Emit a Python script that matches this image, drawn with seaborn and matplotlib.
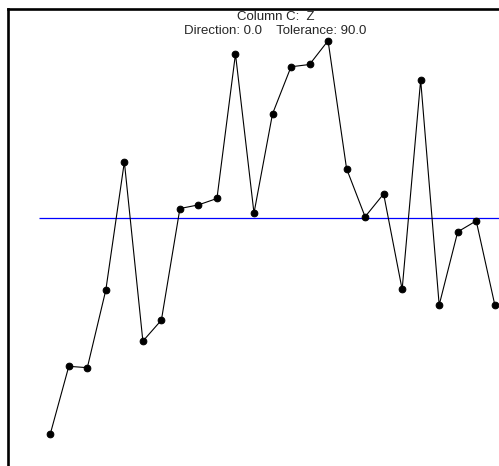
import numpy as np
import pandas as pd
import matplotlib
matplotlib.use('Agg')
import matplotlib.pyplot as plt
import seaborn as sns

# values (sample index vs Z)
sample = list(range(1, 26))
z_values = [7.0, 21.8, 21.5, 38.5, 66.5, 27.3, 31.9, 56.3, 57.1, 58.5,
            90.1, 55.3, 77.0, 87.3, 87.8, 93.0, 65.0, 54.5, 59.5, 38.6,
            84.4, 35.2, 51.2, 53.6, 35.3]
z_mean = 54.2
title_line1 = 'Column C:  Z'
title_line2 = 'Direction: 0.0    Tolerance: 90.0'

df = pd.DataFrame({'sample': sample, 'z': z_values})

sns.set_style('white')
plt.rcParams['font.family'] = ['Liberation Sans', 'DejaVu Sans']

W, H = 499, 466
fig = plt.figure(figsize=(W / 100, H / 100), dpi=100)
ax = fig.add_axes([7.5 / W, 0, 1 - 7.5 / W, 1 - 8.7 / H])

ax.hlines(z_mean, 0.39, 25.5, color='#0000ff', lw=0.9, zorder=1)
sns.lineplot(data=df, x='sample', y='z', ax=ax, color='black', lw=0.8,
             marker='o', markersize=4.8, markeredgecolor='black',
             markerfacecolor='black', zorder=2, clip_on=False)

ax.set_xlim(-1.31, 25.23)
ax.set_ylim(0, 100)
ax.set_xticks([])
ax.set_yticks([])
ax.set_xlabel('')
ax.set_ylabel('')
for side in ['right', 'bottom']:
    ax.spines[side].set_visible(False)
for side in ['left', 'top']:
    ax.spines[side].set_visible(True)
    ax.spines[side].set_color('black')
    ax.spines[side].set_linewidth(1.9)

# header text, drawn on top of the frame
fig.text(275.5 / W, 1 - 20 / H, title_line1, ha='center', va='baseline',
         fontsize=9.5, zorder=5)
fig.text(274.7 / W, 1 - 34 / H, title_line2, ha='center', va='baseline',
         fontsize=9.5, zorder=5)

fig.savefig('out.png', dpi=100, facecolor='white')
